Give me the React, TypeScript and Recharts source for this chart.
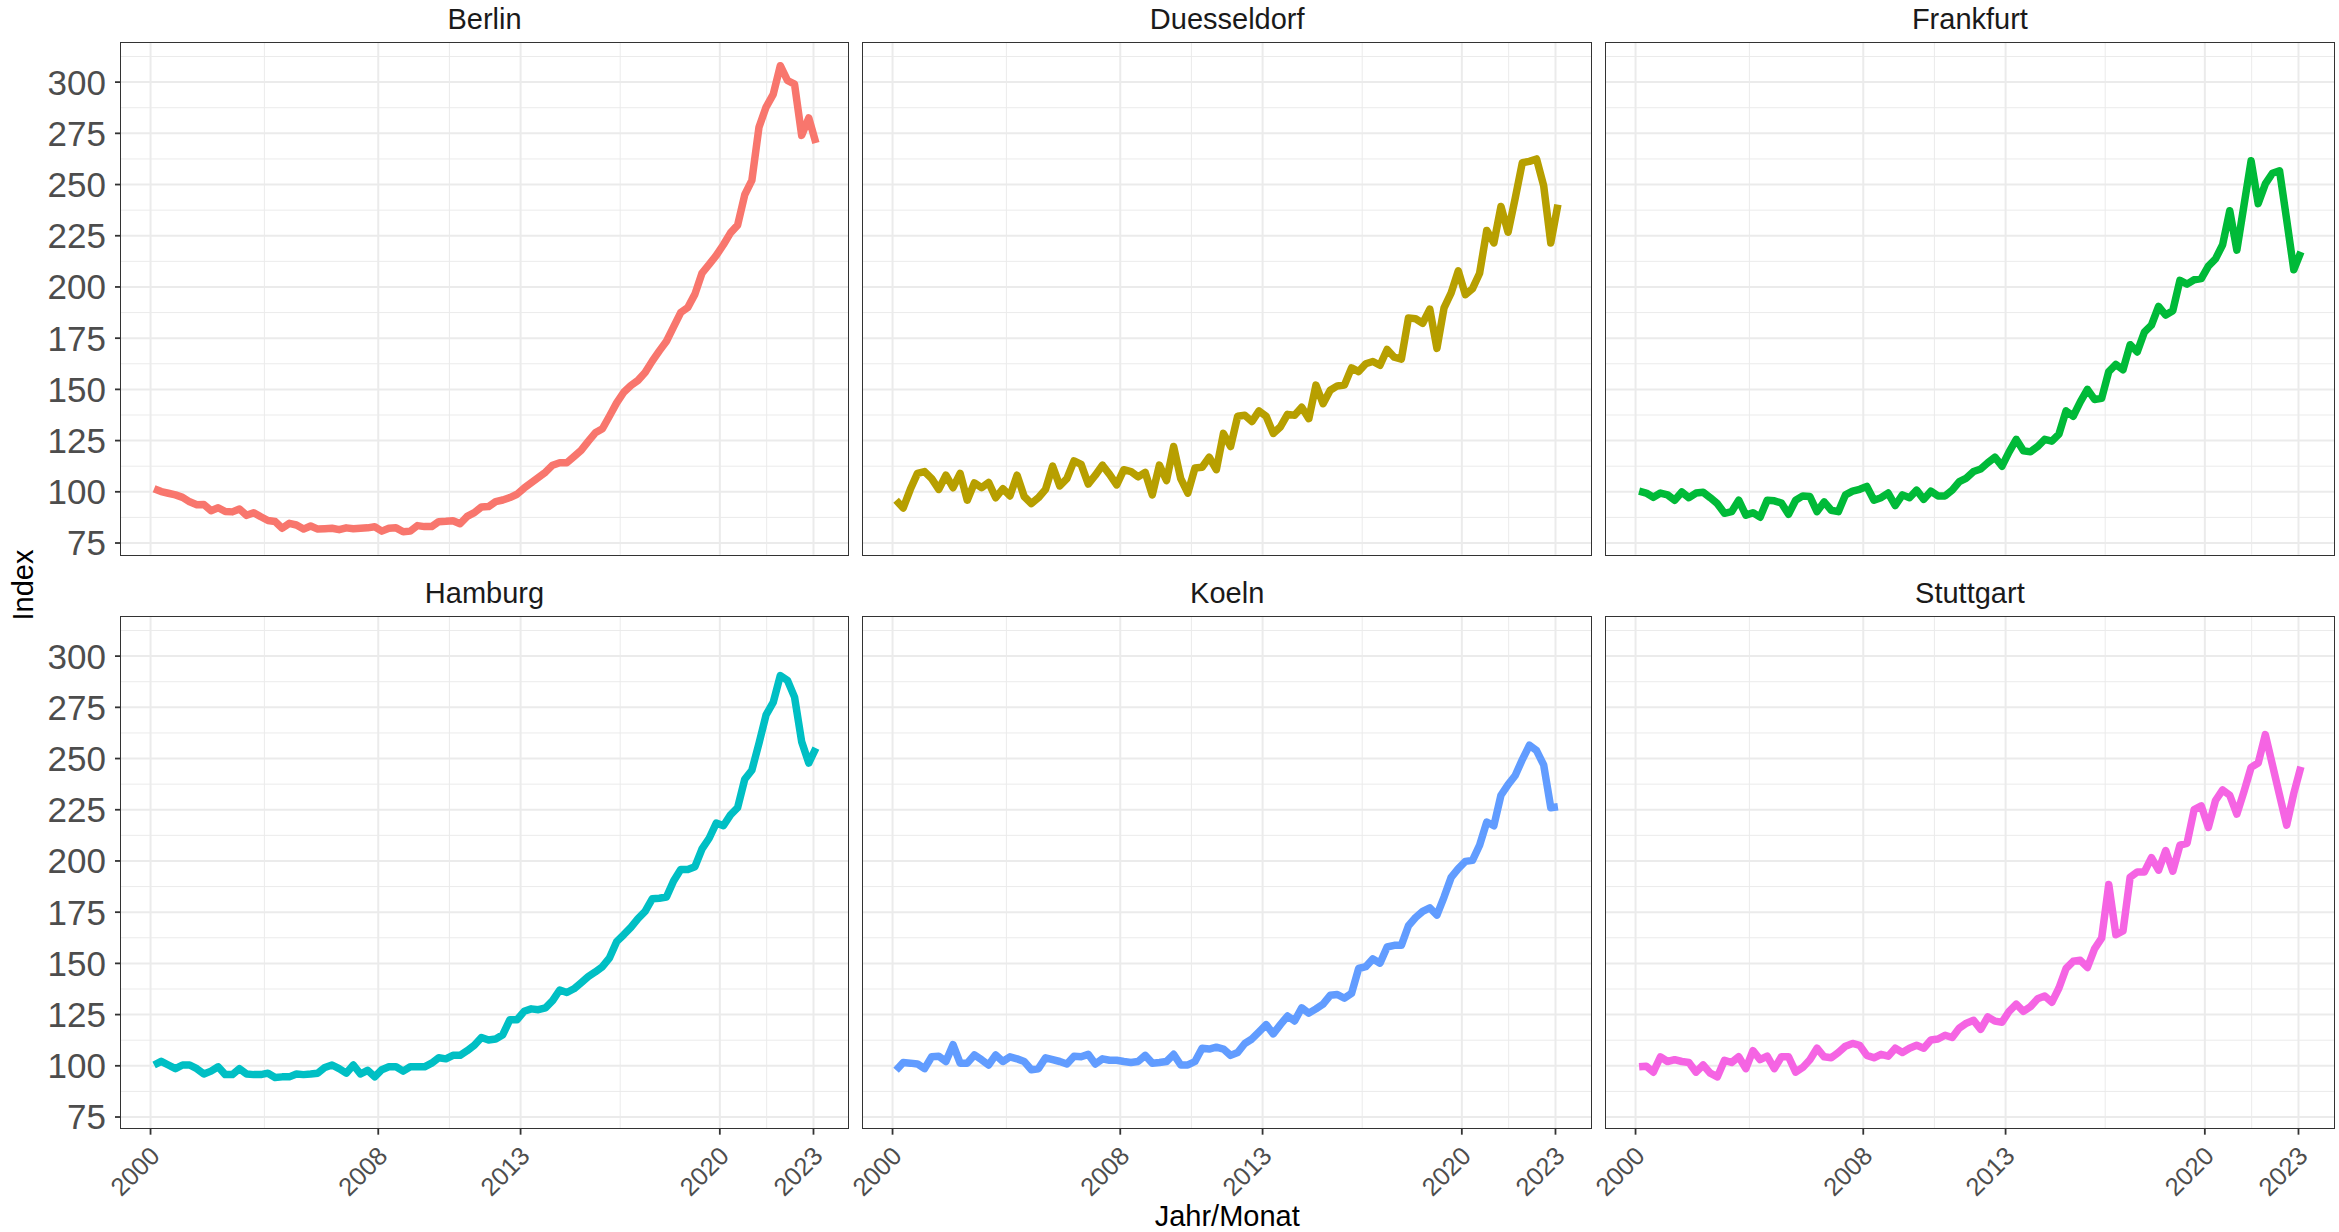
import React from 'react';
import { LineChart, Line, XAxis, YAxis, CartesianGrid } from 'recharts';

const FONT = '"Liberation Sans", Arial, Helvetica, sans-serif';

// Quarterly observations, 2000 Q1 .. 2023 Q2
const QUARTERS = [
  '2000Q1', '2000Q2', '2000Q3', '2000Q4', '2001Q1', '2001Q2', '2001Q3', '2001Q4',
  '2002Q1', '2002Q2', '2002Q3', '2002Q4', '2003Q1', '2003Q2', '2003Q3', '2003Q4',
  '2004Q1', '2004Q2', '2004Q3', '2004Q4', '2005Q1', '2005Q2', '2005Q3', '2005Q4',
  '2006Q1', '2006Q2', '2006Q3', '2006Q4', '2007Q1', '2007Q2', '2007Q3', '2007Q4',
  '2008Q1', '2008Q2', '2008Q3', '2008Q4', '2009Q1', '2009Q2', '2009Q3', '2009Q4',
  '2010Q1', '2010Q2', '2010Q3', '2010Q4', '2011Q1', '2011Q2', '2011Q3', '2011Q4',
  '2012Q1', '2012Q2', '2012Q3', '2012Q4', '2013Q1', '2013Q2', '2013Q3', '2013Q4',
  '2014Q1', '2014Q2', '2014Q3', '2014Q4', '2015Q1', '2015Q2', '2015Q3', '2015Q4',
  '2016Q1', '2016Q2', '2016Q3', '2016Q4', '2017Q1', '2017Q2', '2017Q3', '2017Q4',
  '2018Q1', '2018Q2', '2018Q3', '2018Q4', '2019Q1', '2019Q2', '2019Q3', '2019Q4',
  '2020Q1', '2020Q2', '2020Q3', '2020Q4', '2021Q1', '2021Q2', '2021Q3', '2021Q4',
  '2022Q1', '2022Q2', '2022Q3', '2022Q4', '2023Q1', '2023Q2',
];

const BERLIN = [
  101.5, 100.1, 99.3, 98.5, 97.3, 95.1, 93.7, 93.8, 90.8, 92.2, 90.4, 90.2,
  91.6, 88.5, 89.8, 87.8, 86.0, 85.5, 82.2, 84.6, 83.8, 81.8, 83.3, 81.8,
  82.0, 82.2, 81.5, 82.4, 82.0, 82.2, 82.4, 82.9, 80.8, 82.2, 82.4, 80.5,
  80.8, 83.5, 83.0, 83.0, 85.4, 85.6, 85.9, 84.4, 88.0, 89.8, 92.6, 92.8,
  95.2, 96.0, 97.2, 98.8, 101.8, 104.4, 107.0, 109.6, 113.0, 114.2, 114.2, 117.2,
  120.2, 124.6, 128.8, 130.8, 137.0, 143.4, 148.6, 151.9, 154.4, 158.2, 163.8, 168.8,
  173.5, 180.5, 187.5, 190.0, 196.5, 206.8, 211.0, 215.4, 220.6, 226.4, 230.2, 245.0,
  252.0, 278.0, 287.8, 294.0, 308.0, 300.8, 299.0, 274.0, 282.5, 270.3,
];

const DUESSELDORF = [
  95.9, 92.1, 101.2, 109.0, 109.9, 106.4, 101.2, 108.1, 102.0, 109.0, 95.9, 104.3,
  102.0, 104.6, 97.1, 101.5, 98.0, 108.1, 97.7, 94.2, 97.1, 101.2, 112.5, 102.9,
  106.4, 115.1, 113.4, 103.8, 108.1, 113.0, 108.5, 103.4, 110.8, 109.9, 107.3, 109.5,
  98.5, 113.0, 105.5, 122.1, 106.4, 99.4, 111.6, 112.0, 116.9, 110.8, 128.5, 122.1,
  136.9, 137.4, 134.3, 139.5, 136.9, 128.5, 131.7, 137.8, 137.4, 141.3, 135.7, 152.1,
  143.0, 149.6, 151.7, 152.1, 160.5, 158.7, 162.5, 163.6, 161.8, 169.5, 165.7, 164.8,
  184.9, 184.5, 182.3, 189.2, 170.0, 189.8, 197.1, 207.9, 196.2, 199.2, 206.7, 227.6,
  221.5, 239.3, 226.7, 243.3, 260.7, 261.3, 262.5, 249.4, 221.5, 240.2,
];

const FRANKFURT = [
  100.3, 99.4, 97.3, 99.4, 98.5, 95.9, 99.9, 97.1, 99.4, 99.8, 97.1, 94.2,
  89.5, 90.3, 95.9, 88.6, 89.8, 87.6, 95.9, 95.6, 94.5, 89.0, 95.9, 98.0,
  97.7, 90.3, 95.1, 91.0, 90.3, 98.5, 100.3, 101.2, 102.6, 95.9, 97.1, 99.4,
  93.3, 98.5, 97.1, 100.8, 96.3, 100.3, 98.0, 98.0, 100.8, 105.0, 106.7, 109.9,
  111.1, 114.2, 116.9, 112.5, 119.5, 125.6, 120.0, 119.5, 122.1, 125.6, 124.7, 128.2,
  139.5, 136.9, 143.9, 150.0, 145.1, 145.6, 158.7, 162.2, 159.6, 171.8, 168.3, 177.9,
  181.4, 190.5, 186.3, 188.4, 203.2, 201.4, 203.5, 204.1, 210.2, 213.7, 220.6, 237.2,
  218.0, 239.8, 261.6, 240.7, 250.3, 255.5, 256.7, 232.8, 208.4, 217.1,
];

const HAMBURG = [
  100.4, 102.2, 100.4, 98.6, 100.4, 100.4, 98.6, 96.0, 97.4, 99.5, 95.7, 95.7,
  98.6, 96.0, 95.7, 95.7, 96.4, 94.3, 94.6, 94.6, 96.0, 95.7, 96.0, 96.4,
  99.2, 100.4, 98.6, 96.4, 100.4, 96.0, 97.8, 94.6, 98.1, 99.5, 99.5, 97.4,
  99.5, 99.5, 99.5, 101.3, 103.9, 103.4, 105.1, 105.1, 107.4, 110.0, 113.8, 112.6,
  113.1, 115.2, 122.5, 122.5, 126.6, 127.8, 127.4, 128.3, 131.8, 137.0, 135.8, 137.6,
  140.5, 143.5, 145.8, 148.4, 152.7, 160.6, 164.0, 167.6, 171.9, 175.4, 181.5, 181.8,
  182.4, 190.2, 195.8, 195.8, 197.2, 205.9, 211.1, 218.5, 217.2, 222.5, 226.0, 239.9,
  244.3, 257.4, 271.3, 277.4, 290.5, 288.2, 280.0, 258.2, 247.8, 255.1,
];

const KOELN = [
  97.8, 101.6, 101.3, 100.9, 98.6, 104.4, 104.7, 102.1, 110.3, 101.3, 101.3, 105.3,
  103.0, 100.4, 105.3, 102.1, 104.4, 103.4, 102.1, 98.1, 98.6, 103.9, 103.0, 102.1,
  100.9, 104.7, 104.4, 105.6, 100.9, 103.4, 102.7, 102.7, 102.1, 101.6, 102.1, 105.1,
  101.3, 101.6, 102.1, 105.6, 100.4, 100.4, 102.1, 108.6, 108.2, 109.1, 108.2, 105.1,
  106.5, 110.9, 113.1, 116.6, 120.1, 115.6, 120.1, 124.3, 121.9, 128.3, 125.7, 127.8,
  130.1, 134.4, 134.8, 133.0, 135.3, 147.5, 148.4, 152.2, 150.1, 158.0, 158.8, 158.8,
  168.4, 172.4, 175.4, 177.1, 173.6, 182.4, 192.0, 196.3, 199.8, 200.3, 207.7, 219.0,
  217.2, 232.1, 237.3, 241.7, 249.5, 256.5, 253.9, 246.9, 226.0, 226.5,
];

const STUTTGART = [
  99.5, 99.8, 96.9, 104.4, 102.1, 103.0, 102.1, 101.6, 96.9, 100.4, 96.4, 94.6,
  102.7, 101.6, 104.4, 98.6, 107.4, 103.0, 104.7, 98.6, 104.4, 104.4, 96.9, 99.2,
  103.0, 108.6, 104.4, 103.9, 106.5, 109.6, 110.9, 110.0, 105.1, 103.9, 105.6, 104.7,
  108.6, 106.5, 108.6, 110.0, 108.6, 112.6, 113.1, 114.9, 113.8, 118.4, 120.8, 122.2,
  117.8, 123.9, 121.8, 121.3, 126.6, 130.1, 126.6, 128.9, 132.7, 134.1, 131.0, 138.0,
  147.5, 151.0, 151.5, 148.0, 157.1, 162.3, 188.5, 164.0, 165.8, 192.0, 194.6, 194.6,
  201.6, 195.5, 205.1, 195.0, 207.7, 208.6, 225.1, 226.9, 216.4, 229.5, 234.7, 232.1,
  222.9, 233.9, 245.7, 247.8, 261.7, 246.9, 232.1, 217.5, 233.0, 246.0,
];

const CITIES = ['Berlin', 'Duesseldorf', 'Frankfurt', 'Hamburg', 'Koeln', 'Stuttgart'];
const COLORS = ['#F8766D', '#B79F00', '#00BA38', '#00BFC4', '#619CFF', '#F564E3'];
const SERIES = [BERLIN, DUESSELDORF, FRANKFURT, HAMBURG, KOELN, STUTTGART];

const X_TICKS = [2000, 2008, 2013, 2020, 2023.29];
const X_TICK_LABELS = ['2000', '2008', '2013', '2020', '2023'];
const X_MINOR = [2004, 2010.5, 2016.5, 2021.645];
const X_DOMAIN: [number, number] = [1998.9625, 2024.5375];

const Y_TICKS = [75, 100, 125, 150, 175, 200, 225, 250, 275, 300];
const Y_MINOR = [87.5, 112.5, 137.5, 162.5, 187.5, 212.5, 237.5, 262.5, 287.5, 312.5];
const Y_DOMAIN: [number, number] = [69.3, 319.1];

const X_TITLE = 'Jahr/Monat';
const Y_TITLE = 'Index';

// layout
const COL_LEFT = [120.5, 863.2, 1605.9];
const ROW_TOP = [42.9, 616.6];
const PANEL_W = 728;
const PANEL_H = 511.7;
const Y_AXIS_W = 120;
const X_AXIS_H = 90;
const SIDE_PAD = 50; // extra room so rotated labels / tick text are not clipped
const BOTTOM_PAD = 25;

function quarterToNumber(q: string): number {
  const year = parseInt(q.slice(0, 4), 10);
  const qq = parseInt(q.slice(5), 10);
  return year + (qq - 1) / 4 + 0.125;
}

const XTick = (props: any) => {
  const { x, y, payload } = props;
  const idx = X_TICKS.indexOf(payload.value);
  const label = idx >= 0 ? X_TICK_LABELS[idx] : String(payload.value);
  const ax = x - 2;
  return (
    <text
      x={ax}
      y={y}
      dy="0.71em"
      textAnchor="end"
      transform={`rotate(-45 ${ax} ${y})`}
      fontSize={25.5}
      fill="#4D4D4D"
      fontFamily={FONT}
    >
      {label}
    </text>
  );
};

function Panel({ index }: { index: number }) {
  const col = index % 3;
  const row = Math.floor(index / 3);
  const showY = col === 0;
  const showX = row === 1;
  const yW = showY ? Y_AXIS_W : 0;
  const padL = showY ? 0 : SIDE_PAD;
  const padB = showX ? 0 : BOTTOM_PAD;
  const xH = showX ? X_AXIS_H : 0;
  const data = QUARTERS.map((q, i) => ({ t: quarterToNumber(q), v: SERIES[index][i] }));
  const left = COL_LEFT[col] - yW - padL;
  const top = ROW_TOP[row];
  return (
    <div style={{ position: 'absolute', left, top }}>
      <LineChart
        width={PANEL_W + yW + padL + SIDE_PAD}
        height={PANEL_H + xH + padB}
        data={data}
        margin={{ top: 0, right: SIDE_PAD, bottom: padB, left: padL }}
      >
        <CartesianGrid
          horizontalValues={Y_MINOR}
          verticalValues={X_MINOR}
          stroke="#EBEBEB"
          strokeWidth={1}
        />
        <CartesianGrid
          horizontalValues={Y_TICKS}
          verticalValues={X_TICKS}
          stroke="#EBEBEB"
          strokeWidth={2}
        />
        <XAxis
          type="number"
          dataKey="t"
          domain={X_DOMAIN}
          ticks={X_TICKS}
          allowDataOverflow
          hide={!showX}
          height={xH}
          axisLine={false}
          tickLine={{ stroke: '#333333', strokeWidth: 1.8 }}
          tickSize={6}
          tickMargin={10}
          interval={0}
          tick={(p: any) => <XTick {...p} />}
        />
        <YAxis
          type="number"
          domain={Y_DOMAIN}
          ticks={Y_TICKS}
          allowDataOverflow
          hide={!showY}
          width={yW}
          axisLine={false}
          tickLine={{ stroke: '#333333', strokeWidth: 1.8 }}
          tickSize={6}
          tickMargin={9}
          interval={0}
          tick={{ fontSize: 35, fill: '#4D4D4D', fontFamily: FONT }}
        />
        <Line
          type="linear"
          dataKey="v"
          stroke={COLORS[index]}
          strokeWidth={7.5}
          strokeLinejoin="round"
          dot={false}
          activeDot={false}
          isAnimationActive={false}
        />
      </LineChart>
    </div>
  );
}

export default function App() {
  return (
    <div
      style={{
        position: 'absolute',
        left: 0,
        top: 0,
        width: 2339,
        height: 1232,
        background: '#FFFFFF',
        overflow: 'hidden',
        fontFamily: FONT,
      }}
    >
      {CITIES.map((c, i) => (
        <Panel key={c} index={i} />
      ))}
      {CITIES.map((c, i) => {
        const col = i % 3;
        const row = Math.floor(i / 3);
        return (
          <div
            key={'b' + c}
            style={{
              position: 'absolute',
              left: COL_LEFT[col] - 0.9,
              top: ROW_TOP[row] - 0.9,
              width: PANEL_W + 1.8,
              height: PANEL_H + 1.8,
              border: '1.8px solid #333333',
              boxSizing: 'border-box',
              pointerEvents: 'none',
            }}
          />
        );
      })}
      <svg
        width={2339}
        height={1232}
        style={{ position: 'absolute', left: 0, top: 0, pointerEvents: 'none' }}
      >
        {CITIES.map((c, i) => {
          const col = i % 3;
          const row = Math.floor(i / 3);
          return (
            <text
              key={'s' + c}
              x={COL_LEFT[col] + PANEL_W / 2}
              y={ROW_TOP[row] - 13.8}
              textAnchor="middle"
              fontSize={29}
              fill="#1A1A1A"
              fontFamily={FONT}
            >
              {c}
            </text>
          );
        })}
        <text
          x={(COL_LEFT[0] + COL_LEFT[2] + PANEL_W) / 2}
          y={1226}
          textAnchor="middle"
          fontSize={29}
          fill="#000000"
          fontFamily={FONT}
        >
          {X_TITLE}
        </text>
        <text
          x={33}
          y={585}
          textAnchor="middle"
          transform="rotate(-90 33 585)"
          fontSize={29}
          fill="#000000"
          fontFamily={FONT}
        >
          {Y_TITLE}
        </text>
      </svg>
    </div>
  );
}
